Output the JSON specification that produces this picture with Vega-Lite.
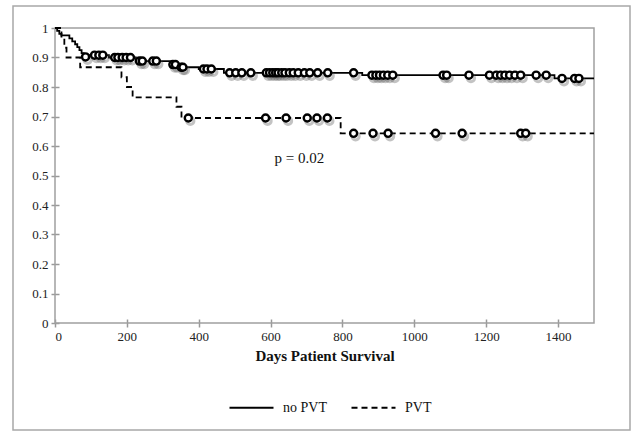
{
  "$schema": "https://vega.github.io/schema/vega-lite/v6.json",
  "width": 617,
  "height": 424,
  "autosize": {"type": "none"},
  "padding": {"left": 13, "top": 6, "right": 2, "bottom": 2},
  "background": "white",
  "config": {"view": {"stroke": "#a8a8a8", "strokeWidth": 1.5}, "font": "Liberation Serif"},
  "datasets": {
    "km": [
      {"t": 0, "s": 1.0, "group": "no PVT"},
      {"t": 6, "s": 0.99, "group": "no PVT"},
      {"t": 12, "s": 0.98, "group": "no PVT"},
      {"t": 18, "s": 0.975, "group": "no PVT"},
      {"t": 40, "s": 0.965, "group": "no PVT"},
      {"t": 48, "s": 0.955, "group": "no PVT"},
      {"t": 56, "s": 0.945, "group": "no PVT"},
      {"t": 62, "s": 0.935, "group": "no PVT"},
      {"t": 68, "s": 0.925, "group": "no PVT"},
      {"t": 74, "s": 0.915, "group": "no PVT"},
      {"t": 80, "s": 0.908, "group": "no PVT"},
      {"t": 150, "s": 0.9, "group": "no PVT"},
      {"t": 225, "s": 0.888, "group": "no PVT"},
      {"t": 320, "s": 0.876, "group": "no PVT"},
      {"t": 345, "s": 0.867, "group": "no PVT"},
      {"t": 400, "s": 0.861, "group": "no PVT"},
      {"t": 470, "s": 0.848, "group": "no PVT"},
      {"t": 855, "s": 0.84, "group": "no PVT"},
      {"t": 1390, "s": 0.829, "group": "no PVT"},
      {"t": 1500, "s": 0.829, "group": "no PVT"},
      {"t": 0, "s": 1.0, "group": "PVT"},
      {"t": 18, "s": 0.967, "group": "PVT"},
      {"t": 26, "s": 0.933, "group": "PVT"},
      {"t": 32, "s": 0.9, "group": "PVT"},
      {"t": 70, "s": 0.867, "group": "PVT"},
      {"t": 185, "s": 0.833, "group": "PVT"},
      {"t": 200, "s": 0.8, "group": "PVT"},
      {"t": 216, "s": 0.765, "group": "PVT"},
      {"t": 338, "s": 0.733, "group": "PVT"},
      {"t": 352, "s": 0.695, "group": "PVT"},
      {"t": 795, "s": 0.643, "group": "PVT"},
      {"t": 1500, "s": 0.643, "group": "PVT"}
    ],
    "cens": [
      {"t": 85, "s": 0.902, "group": "no PVT"},
      {"t": 110, "s": 0.908, "group": "no PVT"},
      {"t": 122, "s": 0.908, "group": "no PVT"},
      {"t": 133, "s": 0.908, "group": "no PVT"},
      {"t": 166, "s": 0.9, "group": "no PVT"},
      {"t": 175, "s": 0.9, "group": "no PVT"},
      {"t": 187, "s": 0.9, "group": "no PVT"},
      {"t": 198, "s": 0.9, "group": "no PVT"},
      {"t": 210, "s": 0.9, "group": "no PVT"},
      {"t": 235, "s": 0.888, "group": "no PVT"},
      {"t": 243, "s": 0.888, "group": "no PVT"},
      {"t": 272, "s": 0.888, "group": "no PVT"},
      {"t": 282, "s": 0.888, "group": "no PVT"},
      {"t": 328, "s": 0.876, "group": "no PVT"},
      {"t": 335, "s": 0.876, "group": "no PVT"},
      {"t": 351, "s": 0.867, "group": "no PVT"},
      {"t": 356, "s": 0.867, "group": "no PVT"},
      {"t": 413, "s": 0.861, "group": "no PVT"},
      {"t": 423, "s": 0.861, "group": "no PVT"},
      {"t": 435, "s": 0.861, "group": "no PVT"},
      {"t": 486, "s": 0.848, "group": "no PVT"},
      {"t": 503, "s": 0.848, "group": "no PVT"},
      {"t": 520, "s": 0.848, "group": "no PVT"},
      {"t": 545, "s": 0.848, "group": "no PVT"},
      {"t": 588, "s": 0.848, "group": "no PVT"},
      {"t": 597, "s": 0.848, "group": "no PVT"},
      {"t": 606, "s": 0.848, "group": "no PVT"},
      {"t": 614, "s": 0.848, "group": "no PVT"},
      {"t": 621, "s": 0.848, "group": "no PVT"},
      {"t": 631, "s": 0.848, "group": "no PVT"},
      {"t": 640, "s": 0.848, "group": "no PVT"},
      {"t": 652, "s": 0.848, "group": "no PVT"},
      {"t": 663, "s": 0.848, "group": "no PVT"},
      {"t": 677, "s": 0.848, "group": "no PVT"},
      {"t": 694, "s": 0.848, "group": "no PVT"},
      {"t": 709, "s": 0.848, "group": "no PVT"},
      {"t": 731, "s": 0.848, "group": "no PVT"},
      {"t": 759, "s": 0.848, "group": "no PVT"},
      {"t": 831, "s": 0.848, "group": "no PVT"},
      {"t": 882, "s": 0.84, "group": "no PVT"},
      {"t": 893, "s": 0.84, "group": "no PVT"},
      {"t": 903, "s": 0.84, "group": "no PVT"},
      {"t": 914, "s": 0.84, "group": "no PVT"},
      {"t": 926, "s": 0.84, "group": "no PVT"},
      {"t": 940, "s": 0.84, "group": "no PVT"},
      {"t": 1080, "s": 0.84, "group": "no PVT"},
      {"t": 1090, "s": 0.84, "group": "no PVT"},
      {"t": 1152, "s": 0.84, "group": "no PVT"},
      {"t": 1209, "s": 0.84, "group": "no PVT"},
      {"t": 1228, "s": 0.84, "group": "no PVT"},
      {"t": 1240, "s": 0.84, "group": "no PVT"},
      {"t": 1252, "s": 0.84, "group": "no PVT"},
      {"t": 1265, "s": 0.84, "group": "no PVT"},
      {"t": 1280, "s": 0.84, "group": "no PVT"},
      {"t": 1296, "s": 0.84, "group": "no PVT"},
      {"t": 1339, "s": 0.84, "group": "no PVT"},
      {"t": 1367, "s": 0.84, "group": "no PVT"},
      {"t": 1411, "s": 0.829, "group": "no PVT"},
      {"t": 1446, "s": 0.829, "group": "no PVT"},
      {"t": 1458, "s": 0.829, "group": "no PVT"},
      {"t": 371, "s": 0.695, "group": "PVT"},
      {"t": 586, "s": 0.695, "group": "PVT"},
      {"t": 643, "s": 0.695, "group": "PVT"},
      {"t": 702, "s": 0.695, "group": "PVT"},
      {"t": 729, "s": 0.695, "group": "PVT"},
      {"t": 758, "s": 0.695, "group": "PVT"},
      {"t": 831, "s": 0.643, "group": "PVT"},
      {"t": 885, "s": 0.643, "group": "PVT"},
      {"t": 927, "s": 0.643, "group": "PVT"},
      {"t": 1059, "s": 0.643, "group": "PVT"},
      {"t": 1133, "s": 0.643, "group": "PVT"},
      {"t": 1296, "s": 0.643, "group": "PVT"},
      {"t": 1310, "s": 0.643, "group": "PVT"}
    ]
  },
  "layer": [
    {
      "data": {"values": [{}]},
      "mark": {"type": "rect", "filled": false, "stroke": "#a0a0a0", "strokeWidth": 1.5},
      "encoding": {
        "x": {"datum": 0, "type": "quantitative", "scale": {"domain": [0, 1500], "range": [42, 581], "nice": false, "zero": false}},
        "x2": {"datum": 1500},
        "y": {"datum": 0, "type": "quantitative", "scale": {"domain": [0, 1], "range": [317, 22], "nice": false}},
        "y2": {"datum": 1}
      }
    },
    {
      "data": {"name": "km"},
      "mark": {"type": "line", "interpolate": "step-after", "color": "black", "strokeWidth": 1.8},
      "encoding": {
        "x": {
          "field": "t", "type": "quantitative",
          "axis": {
            "orient": "bottom", "offset": -111, "domain": false,
            "values": [0, 200, 400, 600, 800, 1000, 1200, 1400], "format": "d",
            "tickSize": 8, "tickColor": "#999999", "tickWidth": 1.5,
            "labelFont": "Liberation Serif", "labelFontSize": 13, "labelColor": "#222222", "labelPadding": 3,
            "title": "Days Patient Survival", "titleFont": "Liberation Serif", "titleFontSize": 15,
            "titleFontWeight": "bold", "titleColor": "#111111", "titlePadding": 5, "grid": false
          }
        },
        "y": {
          "field": "s", "type": "quantitative",
          "axis": {
            "orient": "left", "offset": -46, "domain": false,
            "values": [0, 0.1, 0.2, 0.3, 0.4, 0.5, 0.6, 0.7, 0.8, 0.9, 1], "format": "~g",
            "tickSize": 8, "tickColor": "#999999", "tickWidth": 1.5,
            "labelFont": "Liberation Serif", "labelFontSize": 13, "labelColor": "#222222", "labelPadding": 3,
            "title": null, "grid": false
          }
        },
        "strokeDash": {
          "field": "group", "type": "nominal",
          "scale": {"domain": ["no PVT", "PVT"], "range": [[1, 0], [6, 4]]},
          "legend": {
            "orient": "none", "legendX": 215, "legendY": 378, "direction": "horizontal", "title": null,
            "symbolType": "stroke", "symbolSize": 1936, "symbolStrokeWidth": 2.2, "symbolStrokeColor": "black",
            "labelFont": "Liberation Serif", "labelFontSize": 14, "labelColor": "#111111",
            "labelOffset": 8, "columnPadding": 20
          }
        }
      }
    },
    {
      "data": {"name": "cens"},
      "mark": {"type": "point", "shape": "circle", "filled": false, "stroke": "#555555", "strokeWidth": 3, "opacity": 0.35, "size": 52, "xOffset": 2, "yOffset": 3},
      "encoding": {
        "x": {"field": "t", "type": "quantitative"},
        "y": {"field": "s", "type": "quantitative"},
        "detail": {"field": "group"}
      }
    },
    {
      "data": {"name": "cens"},
      "mark": {"type": "point", "shape": "circle", "filled": true, "fill": "white", "stroke": "black", "strokeWidth": 2.4, "opacity": 1, "size": 50},
      "encoding": {
        "x": {"field": "t", "type": "quantitative"},
        "y": {"field": "s", "type": "quantitative"},
        "detail": {"field": "group"}
      }
    },
    {
      "data": {"values": [{"label": "p = 0.02"}]},
      "mark": {"type": "text", "font": "Liberation Serif", "fontSize": 15, "color": "#111111", "align": "center", "baseline": "middle"},
      "encoding": {
        "x": {"datum": 680, "type": "quantitative"},
        "y": {"datum": 0.559, "type": "quantitative"},
        "text": {"field": "label"}
      }
    }
  ]
}
